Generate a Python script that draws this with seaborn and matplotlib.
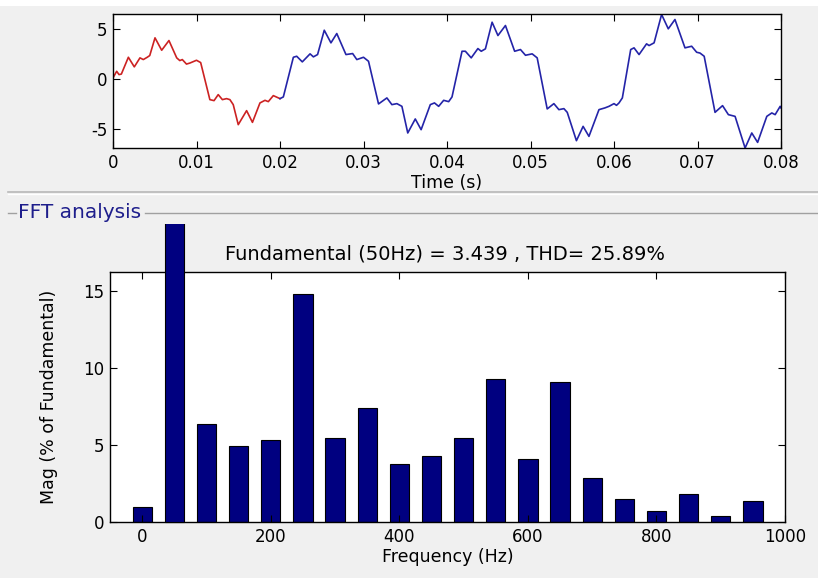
import matplotlib
matplotlib.use("Agg")
import matplotlib.pyplot as plt
import seaborn as sns
import pandas as pd
from matplotlib.transforms import Bbox, TransformedBbox
from matplotlib.lines import Line2D
from matplotlib.patches import Rectangle

# ---------------- data ----------------
# waveform, first cycle (red)
red_t = [0.0, 0.00044, 0.00072, 0.0010, 0.00184, 0.00255, 0.00323, 0.00363, 0.0041,
         0.0044, 0.00503, 0.00583, 0.0067, 0.00763, 0.0080, 0.0083, 0.0088, 0.0092,
         0.0100, 0.0105, 0.0116, 0.0121, 0.0126, 0.0131, 0.0136, 0.0140, 0.0144,
         0.0150, 0.0160, 0.0167, 0.0176, 0.0182, 0.0186, 0.0192, 0.0200]
red_v = [0.07, 0.73, 0.4, 0.45, 2.13, 1.17, 2.07, 1.9, 2.13,
         2.3, 4.07, 2.83, 3.8, 2.07, 1.8, 1.9, 1.45, 1.55,
         1.83, 1.6, -2.1, -2.2, -1.6, -2.1, -2.0, -2.1, -2.6,
         -4.6, -3.2, -4.37, -2.43, -2.17, -2.3, -1.7, -2.0]
# waveform, following cycles (blue)
blue_t = [0.0200, 0.0204, 0.0216, 0.0220, 0.02267, 0.0236, 0.0240, 0.0245, 0.0253,
          0.0261, 0.0268, 0.0279, 0.0287, 0.0292, 0.0300, 0.0306, 0.0318, 0.0328,
          0.0334, 0.0340, 0.0346, 0.0353, 0.0362, 0.0369, 0.0380, 0.0385, 0.0390,
          0.0396, 0.0402, 0.0406, 0.0418, 0.0422, 0.0429, 0.0437, 0.0441, 0.0446,
          0.0454, 0.0461, 0.0470, 0.0481, 0.0488, 0.0494, 0.0502, 0.0508, 0.0520,
          0.0528, 0.0534, 0.0540, 0.0544, 0.0555, 0.0563, 0.0570, 0.0582, 0.0589,
          0.0594, 0.0600, 0.0603, 0.0606, 0.0610, 0.0620, 0.0624, 0.0630, 0.0639,
          0.0642, 0.0648, 0.0657, 0.0665, 0.0673, 0.0685, 0.0693, 0.0699, 0.0703,
          0.0708, 0.0721, 0.0730, 0.0737, 0.0745, 0.0757, 0.0765, 0.0772, 0.0783,
          0.0789, 0.0793, 0.0799, 0.0800]
blue_v = [-2.0, -1.83, 2.13, 2.23, 1.67, 2.47, 2.17, 2.4, 4.83,
          3.57, 4.5, 2.4, 2.5, 1.9, 2.13, 1.73, -2.53, -1.93,
          -2.6, -2.5, -2.77, -5.43, -4.03, -5.1, -2.6, -2.43, -2.77,
          -2.17, -2.3, -1.83, 2.73, 2.73, 2.07, 3.0, 2.73, 2.97,
          5.63, 4.3, 5.3, 2.73, 2.9, 2.33, 2.47, 2.07, -3.03,
          -2.5, -3.1, -3.0, -3.37, -6.2, -4.77, -5.77, -3.1, -2.93,
          -2.77, -2.5, -2.67, -2.43, -1.93, 2.9, 3.07, 2.4, 3.47,
          3.3, 3.57, 6.4, 4.97, 5.9, 3.07, 3.23, 2.63, 2.55,
          2.23, -3.37, -2.7, -3.6, -3.77, -6.93, -5.43, -6.37, -3.77,
          -3.43, -3.6, -2.77, -2.93]

# FFT spectrum (% of fundamental)
freqs = [0, 50, 100, 150, 200, 250, 300, 350, 400, 450, 500,
         550, 600, 650, 700, 750, 800, 850, 900, 950]
mags = [0.99, 100.0, 6.34, 4.94, 5.32, 14.8, 5.47, 7.37, 3.75, 4.29, 5.43,
        9.25, 4.07, 9.09, 2.82, 1.49, 0.71, 1.81, 0.41, 1.34]

time_ticks = [0, 0.01, 0.02, 0.03, 0.04, 0.05, 0.06, 0.07, 0.08]
time_ticklabels = ["0", "0.01", "0.02", "0.03", "0.04", "0.05", "0.06", "0.07", "0.08"]
freq_ticks = [0, 200, 400, 600, 800, 1000]
mag_ticks = [0, 5, 10, 15]
wave_ticks = [-5, 0, 5]

title_text = "Fundamental (50Hz) = 3.439 , THD= 25.89%"

# ---------------- style ----------------
plt.rcParams['font.family'] = ['DejaVu Sans']
plt.rcParams['axes.unicode_minus'] = False
FS_TICK = 12
FS_LAB = 12.5
FS_TITLE = 14

W, H = 818, 578
fig = plt.figure(figsize=(W / 100, H / 100), dpi=100)
fig.patch.set_facecolor('#f0f0f0')

def fx(px):
    return px / W

def fy(py):
    return 1 - py / H

# white strip at very top and separators
fig.patches.append(Rectangle((0, fy(6)), 1, 6 / H, transform=fig.transFigure,
                             facecolor='white', edgecolor='none', zorder=0))
fig.lines.append(Line2D([fx(8), 1], [fy(192), fy(192)], transform=fig.transFigure,
                        color='#b8b8b8', lw=1.2))
fig.lines.append(Line2D([fx(8), 1], [fy(194), fy(194)], transform=fig.transFigure,
                        color='white', lw=1.0))
fig.lines.append(Line2D([fx(8), fx(16)], [fy(213), fy(213)], transform=fig.transFigure,
                        color='#a0a0a0', lw=1.0))
fig.lines.append(Line2D([fx(145), 1], [fy(213), fy(213)], transform=fig.transFigure,
                        color='#a0a0a0', lw=1.0))
fig.text(fx(18), fy(213), "FFT analysis", color='#1e1e8c', fontsize=14.5,
         ha='left', va='center')

def style_axes(ax):
    ax.set_facecolor('white')
    for s in ax.spines.values():
        s.set_color('black')
        s.set_linewidth(1.0)
    ax.tick_params(direction='in', top=True, right=True, length=5, width=0.8,
                   labelsize=FS_TICK, colors='black', pad=4)

# ---------------- top: waveform ----------------
ax1 = fig.add_axes([fx(113), fy(148), fx(781) - fx(113), (148 - 14) / H])
style_axes(ax1)
sns.lineplot(x=red_t, y=red_v, ax=ax1, color='#cc2222', lw=1.2, sort=False,
             estimator=None)
sns.lineplot(x=blue_t, y=blue_v, ax=ax1, color='#2424a8', lw=1.2, sort=False,
             estimator=None)
ax1.set_xlim(0, 0.08)
ax1.set_ylim(-6.93, 6.45)
ax1.set_xticks(time_ticks)
ax1.set_xticklabels(time_ticklabels)
ax1.set_yticks(wave_ticks)
ax1.set_xlabel("Time (s)", fontsize=FS_LAB, labelpad=2)
ax1.set_ylabel("")

# ---------------- bottom: FFT bars ----------------
ax2 = fig.add_axes([fx(110), fy(522), fx(785) - fx(110), (522 - 272) / H])
style_axes(ax2)
df = pd.DataFrame({"freq": freqs, "mag": mags})
sns.barplot(data=df, x="freq", y="mag", native_scale=True, width=0.6,
            color='#000080', saturation=1, edgecolor='black', linewidth=0.8,
            errorbar=None, ax=ax2)
ax2.set_xlim(-50, 1000)
ax2.set_ylim(0, 16.2)
ax2.set_xticks(freq_ticks)
ax2.set_xticklabels([str(f) for f in freq_ticks])
ax2.set_yticks(mag_ticks)
ax2.set_xlabel("Frequency (Hz)", fontsize=FS_LAB, labelpad=2)
ax2.set_ylabel("Mag (% of Fundamental)", fontsize=FS_LAB)
ax2.yaxis.set_label_coords((58 - 110) / 675, 0.5)

# the fundamental bar runs past the axes up to the panel border
clip = TransformedBbox(Bbox([[0, 0], [1, fy(224)]]), fig.transFigure)
for p in ax2.patches:
    cx = p.get_x() + p.get_width() / 2
    if abs(cx - 50) < 1:
        p.set_clip_box(clip)
        p.set_clip_path(None)
        p.set_clip_on(True)
        p.set_zorder(5)

fig.text(fx(445), fy(254), title_text, fontsize=FS_TITLE, ha='center', va='center')

fig.savefig("out.png", dpi=100, facecolor=fig.get_facecolor())
